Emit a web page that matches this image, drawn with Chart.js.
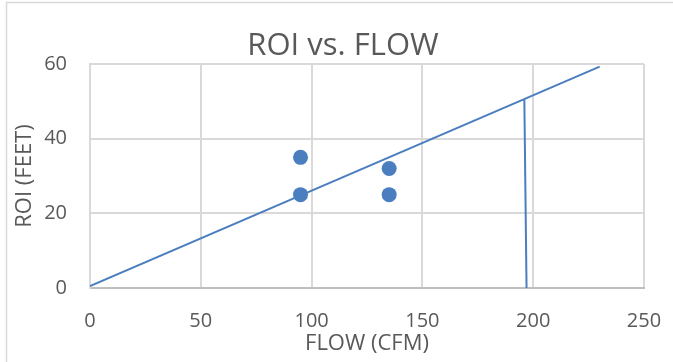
<!DOCTYPE html>
<html>
<head>
<meta charset="utf-8">
<style>
  html, body { margin: 0; padding: 0; background: #ffffff; overflow: hidden; }
  #wrap { position: relative; width: 673px; height: 362px; }
</style>
<script src="https://cdn.jsdelivr.net/npm/chart.js@4.4.1/dist/chart.umd.min.js"></script>
</head>
<body>
<div id="wrap"><canvas id="chart" width="673" height="362"></canvas></div>
<script>
// Measured samples: flow (CFM) against ROI (feet)
const flowSamples = [95, 95, 135, 135];
const roiSamples = [35, 25, 32, 25];

// Straight reference line through the origin region
const trendFlow = [0, 230];
const trendRoi = [0.5, 59.3];

// Drop line from the reference line down to the flow axis
const dropFlow = [196, 197];
const dropRoi = [50.5, 0];

// Axis tick values
const flowTicks = [0, 50, 100, 150, 200, 250];
const roiTicks = [0, 20, 40, 60];

const chartTitle = 'ROI vs. FLOW';

const BLUE = '#4a7ebf';
const TEXT = '#595959';
const GRID = '#d9d9d9';
const FONT = "'Open Sans', 'Liberation Sans', sans-serif";

const toXY = (xs, ys) => xs.map((x, i) => ({ x: x, y: ys[i] }));

// Thin frame around the whole chart, plus the centred heading
const framePlugin = {
  id: 'frame',
  beforeDraw(chart) {
    const ctx = chart.ctx;
    ctx.save();
    ctx.strokeStyle = GRID;
    ctx.lineWidth = 1.5;
    ctx.strokeRect(6.5, 2.5, chart.width + 20, chart.height + 20);
    ctx.restore();
  },
  afterDraw(chart) {
    const ctx = chart.ctx;
    ctx.save();
    ctx.fillStyle = TEXT;
    ctx.font = "31px " + FONT;
    ctx.textAlign = 'center';
    ctx.textBaseline = 'middle';
    ctx.fillText(chartTitle, 343, 46);
    ctx.restore();
  }
};

new Chart(document.getElementById('chart'), {
  type: 'scatter',
  data: {
    datasets: [
      {
        label: 'ROI',
        data: toXY(flowSamples, roiSamples),
        backgroundColor: BLUE,
        borderColor: BLUE,
        pointRadius: 7.5,
        pointHoverRadius: 7.5,
        borderWidth: 0
      },
      {
        label: 'Trend',
        data: toXY(trendFlow, trendRoi),
        showLine: true,
        borderColor: BLUE,
        borderWidth: 2,
        pointRadius: 0,
        fill: false
      },
      {
        label: 'Drop',
        data: toXY(dropFlow, dropRoi),
        showLine: true,
        borderColor: BLUE,
        borderWidth: 2,
        pointRadius: 0,
        fill: false,
        clip: 4
      }
    ]
  },
  options: {
    responsive: false,
    animation: false,
    events: [],
    layout: { padding: { left: 0, right: 29, top: 64, bottom: 0 } },
    plugins: {
      legend: { display: false },
      tooltip: { enabled: false },
      title: { display: false }
    },
    scales: {
      x: {
        type: 'linear',
        min: 0,
        max: 250,
        afterBuildTicks(scale) { scale.ticks = flowTicks.map(v => ({ value: v })); },
        afterFit(scale) {
          scale.height = 74;
          scale.paddingLeft = 0;
          scale.paddingRight = 0;
        },
        ticks: {
          color: TEXT,
          font: { family: FONT, size: 20 },
          padding: 21,
          maxRotation: 0
        },
        grid: { color: GRID, lineWidth: 2, drawTicks: false },
        border: { color: '#bfbfbf', width: 2 },
        title: {
          display: true,
          text: 'FLOW (CFM)',
          color: TEXT,
          font: { family: FONT, size: 22, lineHeight: 1.2 },
          padding: { top: 0, bottom: 5 }
        }
      },
      y: {
        type: 'linear',
        min: 0,
        max: 60,
        afterBuildTicks(scale) { scale.ticks = roiTicks.map(v => ({ value: v })); },
        afterFit(scale) {
          scale.width = 90;
          scale.paddingTop = 0;
          scale.paddingBottom = 0;
        },
        ticks: {
          color: TEXT,
          font: { family: FONT, size: 20 },
          padding: 23
        },
        grid: { color: GRID, lineWidth: 2, drawTicks: false },
        border: { color: GRID, width: 2 },
        title: {
          display: true,
          text: 'ROI (FEET)',
          color: TEXT,
          font: { family: FONT, size: 22, lineHeight: 1.2 },
          padding: { top: 12, bottom: 0 }
        }
      }
    }
  },
  plugins: [framePlugin]
});
</script>
</body>
</html>
